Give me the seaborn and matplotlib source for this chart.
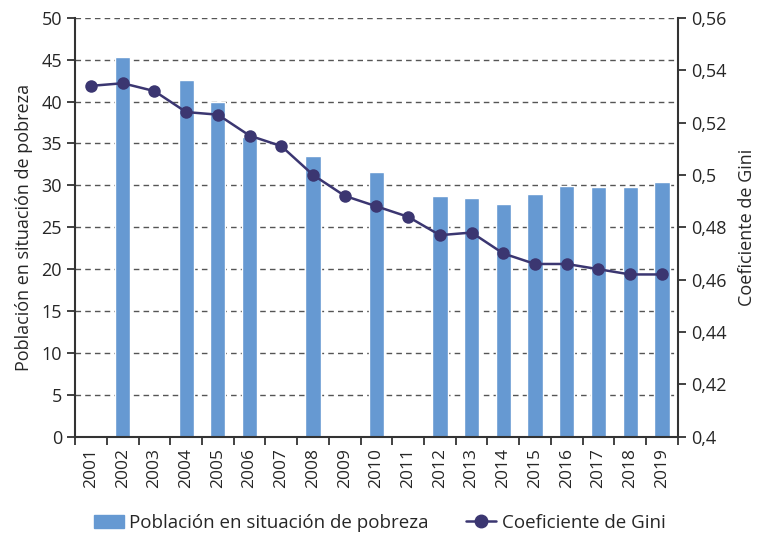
import numpy as np
import pandas as pd
import matplotlib.pyplot as plt
import seaborn as sns
from matplotlib.patches import Patch
from matplotlib.lines import Line2D

# data
years = [str(y) for y in range(2001, 2020)]
bar_years = ["2002", "2004", "2005", "2006", "2008", "2010", "2012", "2013",
             "2014", "2015", "2016", "2017", "2018", "2019"]
pobreza = [45.3, 42.6, 40.0, 35.8, 33.5, 31.6, 28.7, 28.5,
           27.8, 29.0, 29.9, 29.8, 29.8, 30.4]
gini = [0.534, 0.535, 0.532, 0.524, 0.523, 0.515, 0.511, 0.500, 0.492, 0.488,
        0.484, 0.477, 0.478, 0.470, 0.466, 0.466, 0.464, 0.462, 0.462]
gini_labels = ["0,4", "0,42", "0,44", "0,46", "0,48", "0,5", "0,52", "0,54", "0,56"]

bar_color = "#6699D2"
line_color = "#3B3671"

sns.set_theme(style="white")
plt.rcParams["font.family"] = ["Open Sans", "DejaVu Sans"]

df_bar = pd.DataFrame({"year": bar_years, "pobreza": pobreza})
df_gini = pd.DataFrame({"pos": np.arange(len(years)), "gini": gini})

fig = plt.figure(figsize=(7.59, 5.38), dpi=100)
rect = [0.099, 0.188, 0.794, 0.779]
ax = fig.add_axes(rect)

# ---- bars: poverty ----
sns.barplot(data=df_bar, x="year", y="pobreza", order=years, color=bar_color,
            width=0.48, saturation=1, ax=ax)
ax.set_axisbelow(True)
ax.set_xlim(-0.5, len(years) - 0.5)
ax.set_ylim(0, 50)
ax.set_yticks(range(0, 51, 5))
ax.set_xticks(np.arange(len(years)))
ax.set_xticklabels(years, rotation=90)
ax.set_xticks(np.arange(len(years) + 1) - 0.5, minor=True)
ax.tick_params(axis="x", which="major", length=0, labelsize=12.5, pad=8)
ax.tick_params(axis="x", which="minor", length=6, width=1.3, color="#333333", bottom=True)
ax.tick_params(axis="y", length=6, width=1.3, color="#333333", labelsize=13, left=True)
ax.yaxis.grid(True, which="major", linestyle=(0, (4, 3)), color="#555555", linewidth=1.0)
ax.set_xlabel("")
ax.set_ylabel("Población en situación de pobreza", fontsize=13, labelpad=6)
for s in ["top", "right"]:
    ax.spines[s].set_visible(False)
for s in ["left", "bottom"]:
    ax.spines[s].set_color("#333333")
    ax.spines[s].set_linewidth(1.5)

# ---- line: Gini, on its own overlay axes with right-hand scale ----
ax2 = fig.add_axes(rect, label="gini")
ax2.set_facecolor("none")
sns.lineplot(data=df_gini, x="pos", y="gini", color=line_color, marker="o",
             markersize=9, linewidth=1.8, markeredgewidth=0, ax=ax2)
ax2.set_xlim(-0.5, len(years) - 0.5)
ax2.set_ylim(0.4, 0.56)
ax2.xaxis.set_visible(False)
ax2.grid(False, which="both")
ax2.yaxis.tick_right()
ax2.yaxis.set_label_position("right")
ax2.set_yticks(np.arange(0.40, 0.561, 0.02))
ax2.set_yticklabels(gini_labels)
ax2.tick_params(axis="y", length=6, width=1.3, color="#333333", labelsize=13,
                right=True, left=False)
ax2.set_ylabel("Coeficiente de Gini", fontsize=13, labelpad=8)
for s in ["top", "left", "bottom"]:
    ax2.spines[s].set_visible(False)
ax2.spines["right"].set_color("#333333")
ax2.spines["right"].set_linewidth(1.5)

handles = [Patch(color=bar_color),
           Line2D([], [], color=line_color, marker="o", markersize=9, linewidth=1.8)]
fig.legend(handles, ["Población en situación de pobreza", "Coeficiente de Gini"],
           loc="lower center", bbox_to_anchor=(0.5, -0.02), ncol=2, frameon=False,
           fontsize=13.5, handlelength=1.6, columnspacing=2.0, handletextpad=0.3)

fig.savefig("out.png", dpi=100)
